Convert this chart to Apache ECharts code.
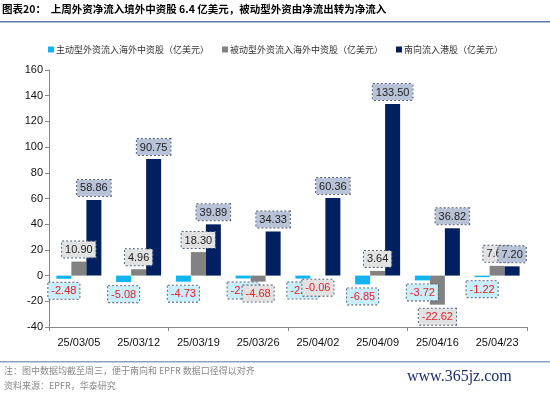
<!DOCTYPE html>
<html><head><meta charset="utf-8">
<script src="https://cdn.jsdelivr.net/npm/echarts@6/dist/echarts.min.js"></script>
<style>html,body{margin:0;padding:0;background:#fff}#c{width:550px;height:393px}</style>
</head><body><div id="c"></div>
<script>
var categories = ['25/03/05','25/03/12','25/03/19','25/03/26','25/04/02','25/04/09','25/04/16','25/04/23'];
var activeFlow = [-2.48, -5.08, -4.73, -2.24, -2.33, -6.85, -3.72, -1.22];
var passiveFlow = [10.90, 4.96, 18.30, -4.68, -0.06, 3.64, -22.62, 7.61];
var southbound = [58.86, 90.75, 39.89, 34.33, 60.36, 133.50, 36.82, 7.20];
var seriesNames = ['主动型外资流入海外中资股（亿美元）','被动型外资流入海外中资股（亿美元）','南向流入港股（亿美元）'];

var FONT = 'Arial, "Liberation Sans", "Noto Sans CJK SC", sans-serif';
function mk(vals){
  return vals.map(function(v){
    return {value:v, label:{position: v>=0?'top':'bottom', color: v<0?'#e8202a':'#222'}};
  });
}
function lab(bg){
  return {show:true, distance:4, fontFamily:FONT, fontSize:11, backgroundColor:bg,
    borderColor:'#556070', borderWidth:1, borderType:'dotted', padding:[3,3,2,3],
    formatter:function(p){return p.value.toFixed(2);}};
}
var chart = echarts.init(document.getElementById('c'));
chart.setOption({
  animation:false,
  grid:{left:49,right:23,top:70,bottom:66},
  legend:{left:43,top:40,itemWidth:6,itemHeight:6,itemGap:13,icon:'rect',
    textStyle:{fontSize:9,color:'#333',fontFamily:'"Noto Sans CJK SC", sans-serif',padding:[0,0,0,-3]},
    data:seriesNames},
  xAxis:[{type:'category',data:categories,position:'bottom',
      axisLine:{show:false},axisTick:{show:false},
      axisLabel:{fontSize:11,color:'#111',fontFamily:FONT,margin:10}},
    {type:'category',data:categories,position:'bottom',
      axisLine:{show:true,onZero:true,lineStyle:{color:'#888',width:1}},
      axisTick:{show:true,inside:false,length:4,lineStyle:{color:'#888'}},
      axisLabel:{show:false}}],
  yAxis:{type:'value',min:-40,max:160,interval:20,
    axisLine:{show:true,lineStyle:{color:'#888'}},
    axisTick:{show:true,length:4,lineStyle:{color:'#888'}},
    splitLine:{show:false},
    axisLabel:{fontSize:11,color:'#111',fontFamily:FONT,margin:6}},
  series:[
    {name:seriesNames[0],type:'bar',data:mk(activeFlow),barWidth:15,barGap:'0%',
     itemStyle:{color:'#10b4ee'},label:lab('#c9eefc')},
    {name:seriesNames[1],type:'bar',data:mk(passiveFlow),barWidth:15,barGap:'0%',
     itemStyle:{color:'#828282'},label:lab('#e2e2e2')},
    {name:seriesNames[2],type:'bar',data:mk(southbound),barWidth:15,barGap:'0%',
     itemStyle:{color:'#002060'},label:lab('#b9c3d8')}
  ],
  graphic:[
    {type:'text',left:2,top:4,style:{text:'图表20：  上周外资净流入境外中资股 6.4 亿美元，被动型外资由净流出转为净流入',
      fontSize:10.5,fontWeight:'bold',fill:'#000',fontFamily:'"Noto Sans CJK SC", sans-serif'}},
    {type:'rect',left:0,top:21,shape:{width:550,height:1.5},style:{fill:'#5b7fa8'}},
    {type:'rect',left:0,top:361,shape:{width:550,height:1.5},style:{fill:'#8aa2c0'}},
    {type:'text',left:4,top:366,style:{text:'注：图中数据均截至周三，便于南向和 EPFR 数据口径得以对齐',
      fontSize:9,fill:'#888',fontFamily:'"Noto Sans CJK SC", sans-serif'}},
    {type:'text',left:4,top:381,style:{text:'资料来源：EPFR，华泰研究',
      fontSize:9,fill:'#888',fontFamily:'"Noto Sans CJK SC", sans-serif'}},
    {type:'text',left:407,top:369,style:{text:'www.365jz.com',
      fontSize:16,fill:'#1c2f6e',fontFamily:'"Liberation Serif", serif'}}
  ]
});
</script></body></html>
